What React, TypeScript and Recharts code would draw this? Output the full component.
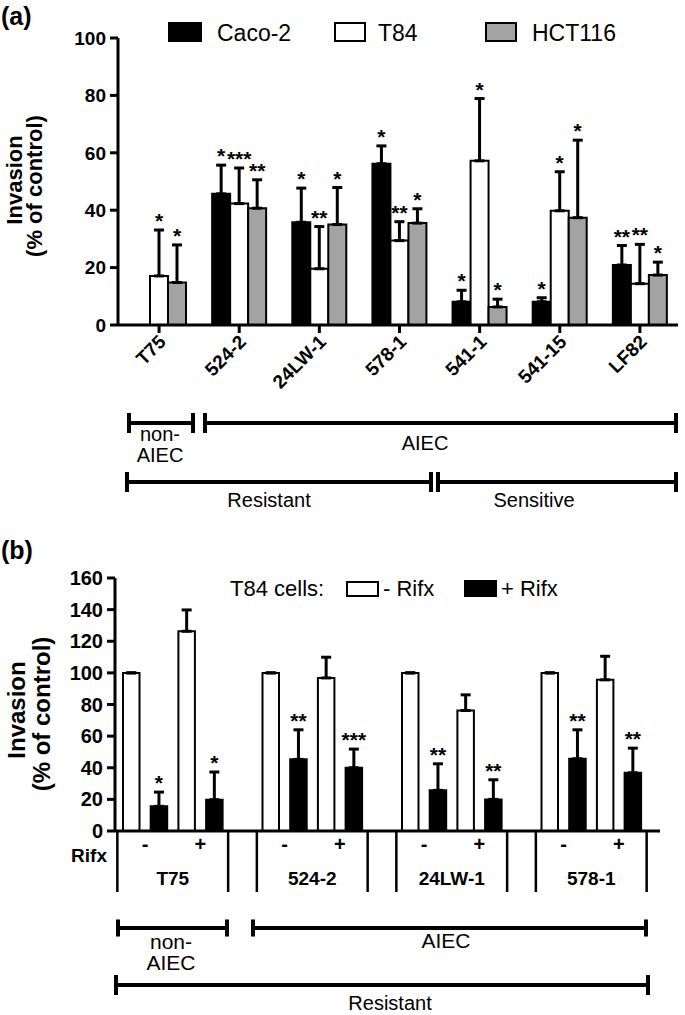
import React from 'react';
import { BarChart, Bar, XAxis, YAxis, ErrorBar, LabelList } from 'recharts';

const FONT = '"Liberation Sans", Arial, Helvetica, sans-serif';

// ---- panel (a): invasion of three cell lines ----
const strainsA = ['T75', '524-2', '24LW-1', '578-1', '541-1', '541-15', 'LF82'];
const caco2 = [null, 45.7, 35.8, 56.2, 8.1, 8.1, 20.9];
const caco2Err = [null, 10, 11.9, 6.2, 4, 1.4, 6.8];
const caco2Sig = ['', '*', '*', '*', '*', '*', '**'];
const t84 = [17.1, 42.3, 19.6, 29.4, 57.2, 39.8, 14.4];
const t84Err = [16, 12.4, 14.7, 6.6, 21.7, 13.6, 13.7];
const t84Sig = ['*', '***', '**', '**', '*', '*', '**'];
const hct116 = [14.8, 40.7, 35, 35.5, 6.3, 37.4, 17.4];
const hct116Err = [13.1, 9.9, 12.9, 5, 2.7, 27, 4.5];
const hct116Sig = ['*', '**', '*', '*', '*', '*', '*'];
const ticksA = [0, 20, 40, 60, 80, 100];

// ---- panel (b): T84 cells -/+ Rifx, bacteria -/+ Rifx ----
const strainsB = ['T75', '524-2', '24LW-1', '578-1'];
const rifxMarks = ['-', '+'];
const bMinusCMinus = [100, 100, 100, 100];
const bMinusCMinusErr = [0, 0, 0, 0];
const bMinusCPlus = [15.6, 45.3, 25.7, 45.7];
const bMinusCPlusErr = [9, 18.7, 16.8, 18.3];
const bMinusCPlusSig = ['*', '**', '**', '**'];
const bPlusCMinus = [126.3, 96.8, 76.2, 95.6];
const bPlusCMinusErr = [13.5, 13.1, 9.9, 14.9];
const bPlusCPlus = [19.8, 40, 20, 36.8];
const bPlusCPlusErr = [17.5, 11.8, 12.4, 15.6];
const bPlusCPlusSig = ['*', '***', '**', '**'];
const ticksB = [0, 20, 40, 60, 80, 100, 120, 140, 160];

const dataA = strainsA.map((s, i) => ({
  strain: s,
  caco2: caco2[i], caco2Err: caco2Err[i], caco2Sig: caco2Sig[i],
  t84: t84[i], t84Err: t84Err[i], t84Sig: t84Sig[i],
  hct116: hct116[i], hct116Err: hct116Err[i], hct116Sig: hct116Sig[i],
}));

const dataB = strainsB.map((s, i) => ({
  strain: s,
  mm: bMinusCMinus[i], mmErr: bMinusCMinusErr[i], mmSig: '',
  mp: bMinusCPlus[i], mpErr: bMinusCPlusErr[i], mpSig: bMinusCPlusSig[i],
  pm: bPlusCMinus[i], pmErr: bPlusCMinusErr[i], pmSig: '',
  pp: bPlusCPlus[i], ppErr: bPlusCPlusErr[i], ppSig: bPlusCPlusSig[i],
}));

const GRAY = '#a3a3a3';
const BAR_B = 16.5;
const GAP_B = 11.2;
const PITCH_B = BAR_B + GAP_B;

const errKey = (key: string) => (row: any) => (row[key] == null ? null : [0, row[key + 'Err']]);

// label value carries "stars|value|error" so the label can find the error-bar top
const sigKey = (key: string) => (row: any) =>
  row[key] == null || !row[key + 'Sig'] ? null : `${row[key + 'Sig']}|${row[key]}|${row[key + 'Err']}`;

const StarLabel = (props: any) => {
  if (!props.value) return null;
  const [sig, v, e] = String(props.value).split('|');
  const vb = props.viewBox || {};
  const x = Number(props.x ?? vb.x);
  const y = Number(props.y ?? vb.y);
  const w = Number(props.width ?? vb.width);
  const h = Number(props.height ?? vb.height);
  const top = Math.min(y, y + h);
  const perUnit = Math.abs(h) / Number(v);
  const errTop = top - Number(e) * perUnit;
  return (
    <text x={x + w / 2} y={errTop - 2} textAnchor="middle" fontSize={21} fontWeight="bold" fontFamily={FONT} fill="#000">
      {sig}
    </text>
  );
};

const RotTick = (props: any) => {
  const { x, y, payload } = props;
  const ax = x + 8;
  const ay = y + 8;
  return (
    <text x={ax} y={ay} transform={`rotate(-45 ${ax} ${ay})`} textAnchor="end" fontSize={19} fontWeight="bold" fontFamily={FONT} fill="#000">
      {payload.value}
    </text>
  );
};

const GroupTick = (props: any) => {
  const { x, y, payload } = props;
  const half = 2 * PITCH_B;
  return (
    <g>
      <line x1={x - half} x2={x - half} y1={y} y2={y + 61} stroke="#000" strokeWidth={2.5} />
      <line x1={x + half} x2={x + half} y1={y} y2={y + 61} stroke="#000" strokeWidth={2.5} />
      {rifxMarks.map((m, i) => (
        <text key={m} x={x + (i === 0 ? -PITCH_B : PITCH_B)} y={y + 20} textAnchor="middle" fontSize={20} fontWeight="bold" fontFamily={FONT} fill="#000">
          {m}
        </text>
      ))}
      <text x={x} y={y + 54} textAnchor="middle" fontSize={19} fontWeight="bold" fontFamily={FONT} fill="#000">
        {payload.value}
      </text>
    </g>
  );
};

const Bracket = ({ x1, x2, y, cap }: { x1: number; x2: number; y: number; cap: number }) => (
  <path d={`M${x1} ${y - cap}V${y + cap}M${x1} ${y}H${x2}M${x2} ${y - cap}V${y + cap}`} stroke="#000" strokeWidth={4} fill="none" />
);

const axisStyle = { stroke: '#000', strokeWidth: 3 };

export default function App() {
  const txt = { fontFamily: FONT, fill: '#000' } as const;
  return (
    <div style={{ position: 'absolute', left: 0, top: 0, width: 685, height: 1015, background: '#fff' }}>
      <div style={{ position: 'absolute', left: 0, top: 0 }}>
        <BarChart width={685} height={420} data={dataA} margin={{ top: 38, right: 7, left: 0, bottom: 0 }} barSize={18} barGap={0}>
          <XAxis dataKey="strain" height={95} padding={{ left: 1, right: -2 }} axisLine={axisStyle} tickLine={axisStyle} tickSize={8} interval={0} tick={<RotTick />} />
          <YAxis width={118} domain={[0, 100]} ticks={ticksA} interval={0} axisLine={axisStyle} tickLine={axisStyle} tickSize={8} tickMargin={4}
            tick={{ fill: '#000', fontSize: 19, fontWeight: 'bold', fontFamily: FONT }} />
          <Bar dataKey="caco2" fill="#000" stroke="#000" strokeWidth={2} isAnimationActive={false}>
            <ErrorBar dataKey={errKey('caco2')} width={5} strokeWidth={3} stroke="#000" direction="y" />
            <LabelList dataKey={sigKey('caco2')} content={<StarLabel />} />
          </Bar>
          <Bar dataKey="t84" fill="#fff" stroke="#000" strokeWidth={2} isAnimationActive={false}>
            <ErrorBar dataKey={errKey('t84')} width={5} strokeWidth={3} stroke="#000" direction="y" />
            <LabelList dataKey={sigKey('t84')} content={<StarLabel />} />
          </Bar>
          <Bar dataKey="hct116" fill={GRAY} stroke="#000" strokeWidth={2} isAnimationActive={false}>
            <ErrorBar dataKey={errKey('hct116')} width={5} strokeWidth={3} stroke="#000" direction="y" />
            <LabelList dataKey={sigKey('hct116')} content={<StarLabel />} />
          </Bar>
        </BarChart>
      </div>

      <div style={{ position: 'absolute', left: 0, top: 540 }}>
        <BarChart width={685} height={400} data={dataB} margin={{ top: 38, right: 25, left: 0, bottom: 0 }} barSize={BAR_B} barGap={GAP_B}>
          <XAxis dataKey="strain" height={109} padding={{ left: -12, right: -1 }} axisLine={axisStyle} tickLine={false} tickSize={0} tickMargin={0} interval={0} tick={<GroupTick />} />
          <YAxis width={115} domain={[0, 160]} ticks={ticksB} interval={0} axisLine={axisStyle} tickLine={axisStyle} tickSize={8} tickMargin={4}
            tick={{ fill: '#000', fontSize: 20, fontWeight: 'bold', fontFamily: FONT }} />
          <Bar dataKey="mm" fill="#fff" stroke="#000" strokeWidth={2} isAnimationActive={false}>
            <ErrorBar dataKey={errKey('mm')} width={5} strokeWidth={3} stroke="#000" direction="y" />
          </Bar>
          <Bar dataKey="mp" fill="#000" stroke="#000" strokeWidth={2} isAnimationActive={false}>
            <ErrorBar dataKey={errKey('mp')} width={5} strokeWidth={3} stroke="#000" direction="y" />
            <LabelList dataKey={sigKey('mp')} content={<StarLabel />} />
          </Bar>
          <Bar dataKey="pm" fill="#fff" stroke="#000" strokeWidth={2} isAnimationActive={false}>
            <ErrorBar dataKey={errKey('pm')} width={5} strokeWidth={3} stroke="#000" direction="y" />
          </Bar>
          <Bar dataKey="pp" fill="#000" stroke="#000" strokeWidth={2} isAnimationActive={false}>
            <ErrorBar dataKey={errKey('pp')} width={5} strokeWidth={3} stroke="#000" direction="y" />
            <LabelList dataKey={sigKey('pp')} content={<StarLabel />} />
          </Bar>
        </BarChart>
      </div>

      <svg width={685} height={1015} style={{ position: 'absolute', left: 0, top: 0, pointerEvents: 'none' }}>
        <text x={1} y={25} fontSize={25} fontWeight="bold" {...txt}>(a)</text>
        <text x={1} y={559} fontSize={25} fontWeight="bold" {...txt}>(b)</text>

        {/* y axis titles */}
        <text transform="translate(22 180) rotate(-90)" textAnchor="middle" fontSize={22} fontWeight="bold" {...txt}>Invasion</text>
        <text transform="translate(42 186) rotate(-90)" textAnchor="middle" fontSize={22} fontWeight="bold" {...txt}>(% of control)</text>
        <text transform="translate(25 710) rotate(-90)" textAnchor="middle" fontSize={24} fontWeight="bold" {...txt}>Invasion</text>
        <text transform="translate(50 714) rotate(-90)" textAnchor="middle" fontSize={24} fontWeight="bold" {...txt}>(% of control)</text>

        {/* legend (a) */}
        <rect x={169} y={23} width={32} height={18} fill="#000" stroke="#000" strokeWidth={2} />
        <text x={217} y={41} fontSize={23} {...txt}>Caco-2</text>
        <rect x={335} y={23} width={30} height={18} fill="#fff" stroke="#000" strokeWidth={2} />
        <text x={378} y={41} fontSize={23} {...txt}>T84</text>
        <rect x={486} y={23} width={30} height={18} fill={GRAY} stroke="#000" strokeWidth={2} />
        <text x={532} y={41} fontSize={23} {...txt}>HCT116</text>

        {/* legend (b) */}
        <text x={230} y={596} fontSize={22} {...txt}>T84 cells:</text>
        <rect x={347} y={582} width={31} height={14} fill="#fff" stroke="#000" strokeWidth={2} />
        <text x={383} y={596} fontSize={22} {...txt}>- Rifx</text>
        <rect x={465} y={581} width={31} height={15} fill="#000" stroke="#000" strokeWidth={2} />
        <text x={501} y={596} fontSize={22} {...txt}>+ Rifx</text>

        <text x={107} y={862} textAnchor="end" fontSize={19} fontWeight="bold" {...txt}>Rifx</text>

        {/* group brackets (a) */}
        <Bracket x1={129} x2={193} y={423} cap={10} />
        <Bracket x1={205} x2={676} y={423} cap={10} />
        <Bracket x1={127} x2={431} y={482} cap={10} />
        <Bracket x1={438} x2={676} y={482} cap={10} />
        <text x={160} y={441} textAnchor="middle" fontSize={20} {...txt}>non-</text>
        <text x={160} y={462} textAnchor="middle" fontSize={20} {...txt}>AIEC</text>
        <text x={425} y={450} textAnchor="middle" fontSize={20} {...txt}>AIEC</text>
        <text x={269} y={507} textAnchor="middle" fontSize={20} {...txt}>Resistant</text>
        <text x={534} y={507} textAnchor="middle" fontSize={20} {...txt}>Sensitive</text>

        {/* group brackets (b) */}
        <Bracket x1={118} x2={227} y={928} cap={8.5} />
        <Bracket x1={253} x2={646} y={928} cap={8.5} />
        <Bracket x1={116} x2={648} y={985} cap={10} />
        <text x={171} y={949} textAnchor="middle" fontSize={21} {...txt}>non-</text>
        <text x={171} y={970} textAnchor="middle" fontSize={21} {...txt}>AIEC</text>
        <text x={446} y={948} textAnchor="middle" fontSize={21} {...txt}>AIEC</text>
        <text x={390} y={1010} textAnchor="middle" fontSize={20} {...txt}>Resistant</text>
      </svg>
    </div>
  );
}
